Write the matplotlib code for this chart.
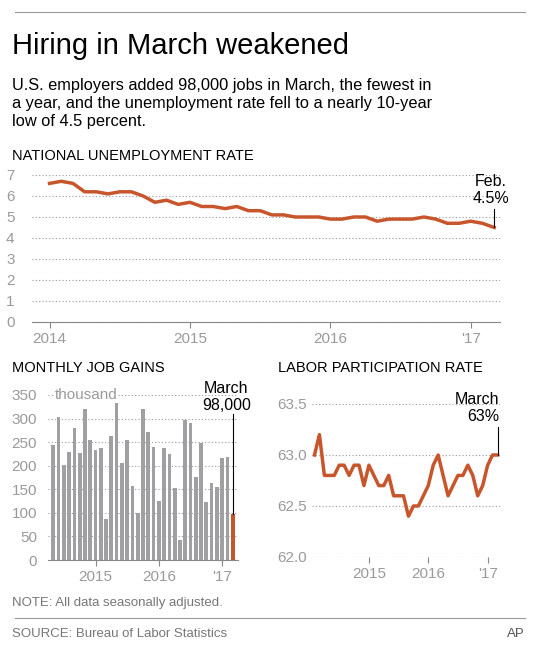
import numpy as np
import matplotlib.pyplot as plt

ORANGE = "#c8562d"
GRAY = "#a0a0a2"
TICK = "#9a9a9a"

# unemployment rate, monthly Jan 2014 - Mar 2017
unemp = [6.6, 6.7, 6.6, 6.2, 6.2, 6.1, 6.2, 6.2, 6.0, 5.7, 5.8, 5.6,
         5.7, 5.5, 5.5, 5.4, 5.5, 5.3, 5.3, 5.1, 5.1, 5.0, 5.0, 5.0,
         4.9, 4.9, 5.0, 5.0, 4.8, 4.9, 4.9, 4.9, 5.0, 4.9, 4.7, 4.7,
         4.8, 4.7, 4.5]

# monthly job gains (thousand), May 2014 - Mar 2017
jobs = [245, 303, 201, 230, 280, 227, 320, 255, 233, 238, 86, 262,
        342, 205, 255, 157, 100, 320, 272, 240, 126, 238, 225, 152,
        43, 297, 291, 176, 249, 124, 164, 155, 216, 219, 98]

# labor participation rate, Feb 2014 - Mar 2017
lfpr = [63.0, 63.2, 62.8, 62.8, 62.8, 62.9, 62.9, 62.8, 62.9, 62.9,
        62.7, 62.9, 62.8, 62.7, 62.7, 62.8, 62.6, 62.6, 62.6, 62.4,
        62.5, 62.5, 62.6, 62.7, 62.9, 63.0, 62.8, 62.6, 62.7, 62.8,
        62.8, 62.9, 62.8, 62.6, 62.7, 62.9, 63.0, 63.0]

W, H = 536, 650
fig = plt.figure(figsize=(W / 100, H / 100), dpi=100)
plt.rcParams['font.family'] = ['Liberation Sans', 'DejaVu Sans']


def box(x0, y0, x1, y1):
    return [x0 / W, 1 - y1 / H, (x1 - x0) / W, (y1 - y0) / H]


def style(ax):
    for s in ["top", "right", "left"]:
        ax.spines[s].set_visible(False)
    ax.spines["bottom"].set_color("#888888")
    ax.tick_params(axis="y", length=0, colors=TICK, labelsize=11)
    ax.tick_params(axis="x", colors=TICK, labelsize=11, length=4, color="#888888")
    ax.grid(axis="y", color="#999999", linestyle=(0, (1, 2)), linewidth=0.8)
    ax.set_axisbelow(True)


fig.add_artist(plt.Line2D([15 / W, 525 / W], [1 - 12 / H] * 2, color="#999999", lw=0.8))
fig.text(12 / W, 1 - 54 / H, "Hiring in March weakened", fontsize=21)
fig.text(12 / W, 1 - 126 / H,
         "U.S. employers added 98,000 jobs in March, the fewest in\n"
         "a year, and the unemployment rate fell to a nearly 10-year\n"
         "low of 4.5 percent.", fontsize=11.8, linespacing=1.25)
fig.text(12 / W, 1 - 160 / H, "NATIONAL UNEMPLOYMENT RATE", fontsize=10.5)
fig.text(12 / W, 1 - 372 / H, "MONTHLY JOB GAINS", fontsize=10.5)
fig.text(278 / W, 1 - 372 / H, "LABOR PARTICIPATION RATE", fontsize=10.5)
fig.text(12 / W, 1 - 606 / H, "NOTE: All data seasonally adjusted.", fontsize=9.5, color="#777777")
fig.add_artist(plt.Line2D([15 / W, 525 / W], [1 - 618 / H] * 2, color="#999999", lw=0.8))
fig.text(12 / W, 1 - 637 / H, "SOURCE: Bureau of Labor Statistics", fontsize=9.5, color="#777777")
fig.text(525 / W, 1 - 637 / H, "AP", fontsize=9.5, color="#555555", ha="right")

# unemployment
ax1 = fig.add_axes(box(32, 175, 500, 322))
style(ax1)
x1 = np.arange(len(unemp))
ax1.plot(x1, unemp, color=ORANGE, lw=2.5)
ax1.set_ylim(0, 7)
ax1.set_yticks(range(8))
ax1.set_xlim(-1.5, 38.5)
ax1.set_xticks([0, 12, 24, 36])
ax1.set_xticklabels(["2014", "2015", "2016", "'17"])
for lab in ax1.get_yticklabels():
    lab.set_horizontalalignment("left")
    lab.set_x(-0.045)
ax1.plot([x1[-1]] * 2, [unemp[-1], 5.4], color="black", lw=0.8)
ax1.text(x1[-1] - 0.3, 5.5, "Feb.\n4.5%", fontsize=11.5, ha="center", va="bottom")

# job gains
ax2 = fig.add_axes(box(48, 395, 238, 560))
style(ax2)
x2 = np.arange(len(jobs))
cols = [GRAY] * (len(jobs) - 1) + [ORANGE]
ax2.bar(x2, jobs, width=0.7, color=cols)
ax2.set_ylim(0, 350)
ax2.set_yticks(range(0, 351, 50))
ax2.set_yticklabels([str(v) for v in range(0, 301, 50)] + ["350"])
ax2.tick_params(axis="y", pad=8)
ax2.text(0.2, 350, "thousand", fontsize=11, color=TICK, va="center", ha="left",
         bbox=dict(facecolor="white", edgecolor="none", pad=0.5))
ax2.set_xlim(-1, len(jobs))
ax2.set_xticks([8, 20, 32])
ax2.set_xticklabels(["2015", "2016", "'17"])
ax2.plot([x2[-1]] * 2, [jobs[-1], 310], color="black", lw=0.8)
ax2.text(x2[-1] - 1.2, 312, "March\n98,000", fontsize=11.5, ha="center", va="bottom")

# participation
ax3 = fig.add_axes(box(312, 404, 500, 557))
style(ax3)
x3 = np.arange(len(lfpr))
ax3.plot(x3, lfpr, color=ORANGE, lw=2.5)
ax3.set_ylim(62.0, 63.5)
ax3.set_yticks([62.0, 62.5, 63.0, 63.5])
ax3.set_yticklabels(["62.0", "62.5", "63.0", "63.5"])
ax3.set_xlim(-0.5, len(lfpr) - 0.5)
ax3.set_xticks([11, 23, 35])
ax3.set_xticklabels(["2015", "2016", "'17"])
ax3.spines["bottom"].set_visible(False)
ax3.plot([x3[-1]] * 2, [lfpr[-1], 63.27], color="black", lw=0.8)
ax3.text(x3[-1] + 0.4, 63.3, "March\n63%", fontsize=11.5, ha="right", va="bottom")

fig.savefig("out.png", dpi=100, facecolor="white")
